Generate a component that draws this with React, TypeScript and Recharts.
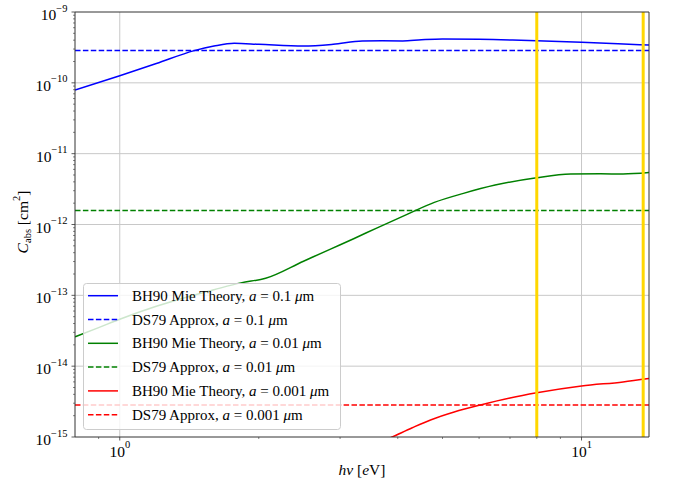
import { LineChart, Line, XAxis, YAxis, ReferenceLine, Legend } from "recharts";

// photon energy range [eV]
const energyRange = [0.8, 14];

// BH90 Mie theory, a = 0.1 um
const mieX01 = [0.8, 1.0, 1.2, 1.45, 1.6, 1.77, 2.0, 2.5, 2.9, 3.35, 3.7, 4.1, 4.5, 5.0, 6.0, 6.7, 8.0, 10, 12, 14];
const mieY01 = [7.9e-11, 1.26e-10, 1.87e-10, 2.85e-10, 3.3e-10, 3.61e-10, 3.5e-10, 3.3e-10, 3.5e-10, 3.9e-10, 3.92e-10, 3.9e-10, 4.05e-10, 4.16e-10, 4.12e-10, 4.05e-10, 3.93e-10, 3.73e-10, 3.55e-10, 3.42e-10];

// BH90 Mie theory, a = 0.01 um
const mieX001 = [0.8, 0.9, 1.0, 1.2, 1.4, 1.6, 1.83, 2.07, 2.5, 2.86, 3.21, 3.6, 4.19, 4.8, 5.55, 6.5, 8.0, 9.47, 11, 12.3, 14];
const mieY001 = [2.6e-14, 3.5e-14, 4.6e-14, 7.0e-14, 9.5e-14, 1.2e-13, 1.5e-13, 1.74e-13, 3.03e-13, 4.5e-13, 6.3e-13, 8.9e-13, 1.39e-12, 2.05e-12, 2.75e-12, 3.6e-12, 4.58e-12, 5.16e-12, 5.2e-12, 5.15e-12, 5.4e-12];

// BH90 Mie theory, a = 0.001 um
const mieX0001 = [3.5, 3.89, 4.3, 4.71, 5.3, 6.04, 7.0, 8.0, 10, 12.3, 14];
const mieY0001 = [7.4e-16, 1.0e-15, 1.35e-15, 1.74e-15, 2.25e-15, 2.83e-15, 3.55e-15, 4.2e-15, 5.24e-15, 6.0e-15, 6.7e-15];

// DS79 approximation (flat)
const ds79A01 = 2.85e-10;
const ds79A001 = 1.58e-12;
const ds79A0001 = 2.83e-15;

// vertical markers [eV]
const markers = [8, 13.6];

const xMajor = [1, 10];
const xMinor = [0.9, 2, 3, 4, 5, 6, 7, 8, 9];
const yExps = [-15, -14, -13, -12, -11, -10, -9];

const FONT = "'Liberation Serif', 'DejaVu Serif', serif";
const AXIS = "#333";
const DASH = "5.5 2.4";

const pts = (xs: number[], ys: number[]) => xs.map((x, i) => ({ x, y: ys[i] }));
const flat = (v: number) => energyRange.map((x) => ({ x, y: v }));

const series = [
  { a: "0.1", color: "#0000ff", dashed: false, name: "BH90 Mie Theory", data: pts(mieX01, mieY01) },
  { a: "0.1", color: "#0000ff", dashed: true, name: "DS79 Approx", data: flat(ds79A01) },
  { a: "0.01", color: "#008000", dashed: false, name: "BH90 Mie Theory", data: pts(mieX001, mieY001) },
  { a: "0.01", color: "#008000", dashed: true, name: "DS79 Approx", data: flat(ds79A001) },
  { a: "0.001", color: "#ff0000", dashed: false, name: "BH90 Mie Theory", data: pts(mieX0001, mieY0001) },
  { a: "0.001", color: "#ff0000", dashed: true, name: "DS79 Approx", data: flat(ds79A0001) },
];

const xTicks = [...xMinor, ...xMajor].sort((a, b) => a - b);
const yTicks: number[] = [];
yExps.forEach((e) => {
  yTicks.push(Math.pow(10, e));
  if (e < -9) for (let m = 2; m < 10; m++) yTicks.push(m * Math.pow(10, e));
});

const isDecade = (v: number) => Math.abs(Math.log10(v) - Math.round(Math.log10(v))) < 1e-6;
const sup = (e: number) => (e < 0 ? "\u2212" + Math.abs(e) : String(e));

const XTick = ({ x, y, payload }: any) => {
  const v = payload.value;
  const major = isDecade(v);
  return (
    <g>
      <line x1={x} x2={x} y1={y} y2={y + (major ? 3.5 : 2)} stroke={AXIS} strokeWidth={major ? 0.8 : 0.6} />
      {major && (
        <text x={x} y={y + 20} textAnchor="middle" fontFamily={FONT} fontSize={15.5} fill="#000">
          10<tspan dy={-9} fontSize={10.5}>{sup(Math.round(Math.log10(v)))}</tspan>
        </text>
      )}
    </g>
  );
};

const YTick = ({ x, y, payload }: any) => {
  const v = payload.value;
  const major = isDecade(v);
  return (
    <g>
      <line x1={x} x2={x - (major ? 3.5 : 2)} y1={y} y2={y} stroke={AXIS} strokeWidth={major ? 0.8 : 0.6} />
      {major && (
        <text x={x - 7.5} y={y + 8} textAnchor="end" fontFamily={FONT} fontSize={15.5} fill="#000">
          10<tspan dy={-8.5} fontSize={10.5}>{sup(Math.round(Math.log10(v)))}</tspan>
        </text>
      )}
    </g>
  );
};

const LegendBox = () => (
  <svg width={258} height={147} style={{ display: "block" }}>
    <rect x={0.5} y={0.5} width={257} height={146} rx={3} fill="#fff" fillOpacity={0.8} stroke="#ccc" />
    {series.map((s, i) => {
      const cy = 12.7 + i * 23.8;
      return (
        <g key={i}>
          <line x1={5} x2={35} y1={cy} y2={cy} stroke={s.color} strokeWidth={1.5} strokeDasharray={s.dashed ? DASH : undefined} />
          <text x={49} y={cy + 5} fontFamily={FONT} fontSize={15} fill="#000">
            {s.name}, <tspan fontStyle="italic">a</tspan> = {s.a} <tspan fontStyle="italic">{"\u03bc"}</tspan>m
          </text>
        </g>
      );
    })}
  </svg>
);

export default function App() {
  return (
    <div style={{ position: "absolute", left: 0, top: 0, background: "#fff" }}>
      <LineChart width={673} height={483} margin={{ top: 12, right: 24, left: 15, bottom: 16 }}>
        <XAxis
          dataKey="x"
          type="number"
          scale="log"
          domain={energyRange}
          allowDataOverflow
          ticks={xTicks}
          interval={0}
          tick={<XTick />}
          tickLine={false}
          tickSize={0}
          tickMargin={0}
          axisLine={{ stroke: AXIS, strokeWidth: 1 }}
          height={30}
        />
        <YAxis
          type="number"
          scale="log"
          domain={[1e-15, 1e-9]}
          allowDataOverflow
          ticks={yTicks}
          interval={0}
          tick={<YTick />}
          tickLine={false}
          tickSize={0}
          tickMargin={0}
          axisLine={{ stroke: AXIS, strokeWidth: 1 }}
          width={60}
        />
        {/* major grid */}
        {xMajor.map((v) => (
          <ReferenceLine key={"gx" + v} x={v} stroke="#c8c8c8" strokeWidth={1} ifOverflow="visible" />
        ))}
        {yExps.slice(1, -1).map((e) => (
          <ReferenceLine key={"gy" + e} y={Math.pow(10, e)} stroke="#c8c8c8" strokeWidth={1} ifOverflow="visible" />
        ))}
        {series.map((s, i) => (
          <Line
            key={i}
            data={s.data}
            dataKey="y"
            type="monotone"
            stroke={s.color}
            strokeWidth={1.5}
            strokeDasharray={s.dashed ? DASH : undefined}
            dot={false}
            activeDot={false}
            isAnimationActive={false}
          />
        ))}
        {markers.map((m) => (
          <ReferenceLine key={"m" + m} x={m} stroke="#ffd700" strokeWidth={3} ifOverflow="visible" />
        ))}
        <ReferenceLine y={1e-9} stroke={AXIS} strokeWidth={1} ifOverflow="visible" />
        <ReferenceLine x={14} stroke={AXIS} strokeWidth={1} ifOverflow="visible" />
        <Legend
          layout="vertical"
          align="center"
          verticalAlign="middle"
          content={() => <LegendBox />}
          wrapperStyle={{ left: 83, top: 283, width: 258, height: 147 }}
        />
        <text transform="rotate(-90, 28, 222)" x={28} y={222} textAnchor="middle" fontFamily={FONT} fontSize={15.5} fill="#000">
          <tspan fontStyle="italic">C</tspan>
          <tspan fontSize={10.5} dy={3}>abs</tspan>
          <tspan dy={-3}> [cm</tspan>
          <tspan fontSize={10.5} dy={-8}>2</tspan>
          <tspan dy={8}>]</tspan>
        </text>
        <text x={362} y={475} textAnchor="middle" fontFamily={FONT} fontSize={15.5} fill="#000">
          <tspan fontStyle="italic">h{"\u03bd"}</tspan> [<tspan fontStyle="italic">e</tspan>V]
        </text>
      </LineChart>
    </div>
  );
}
